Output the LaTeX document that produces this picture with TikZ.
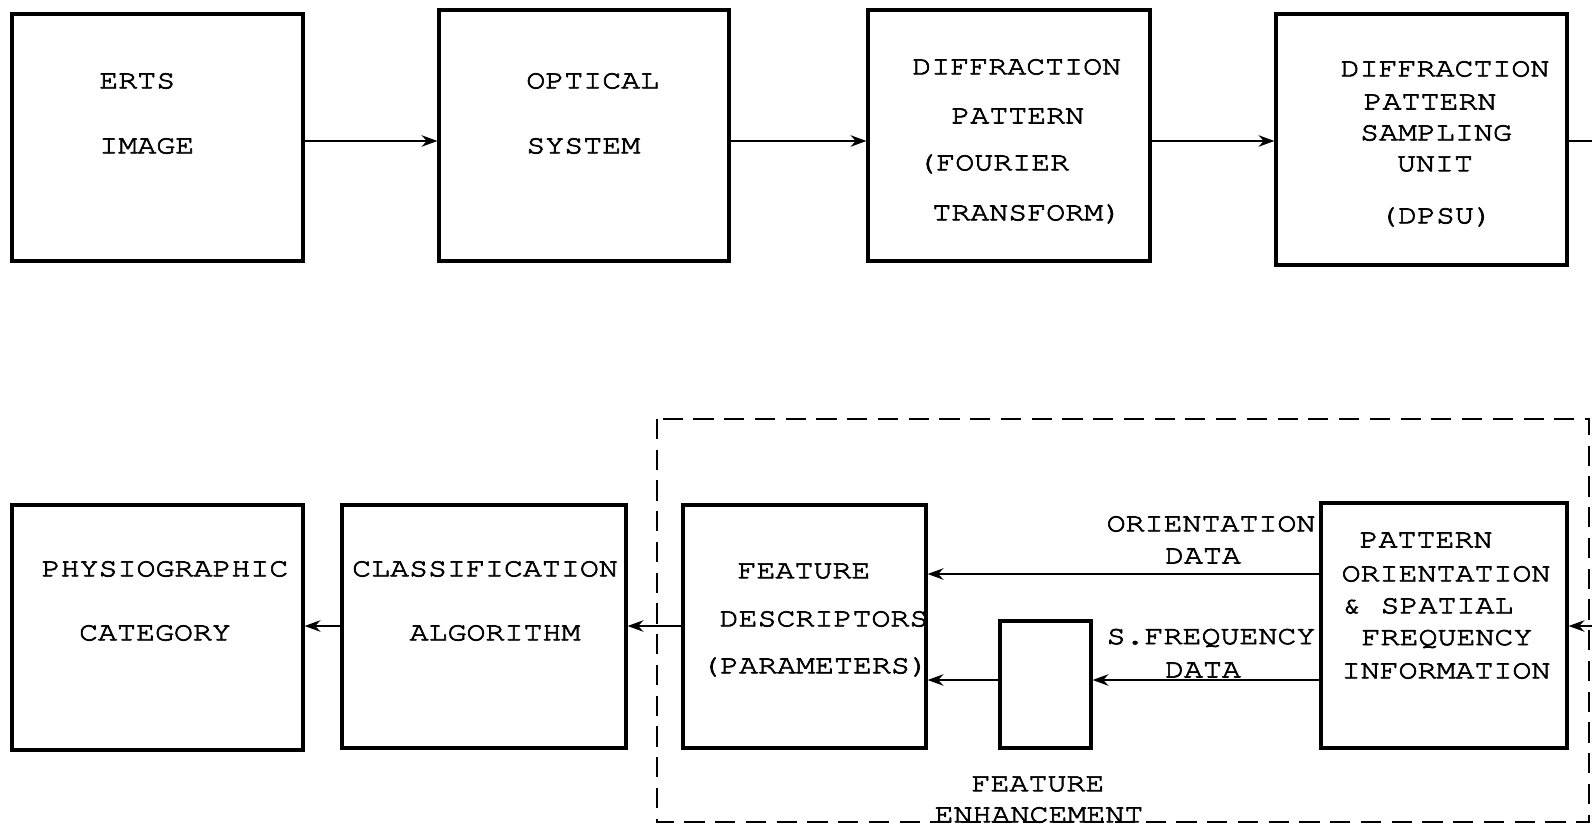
\documentclass[tikz,border=0pt]{standalone}
\usepackage{fontspec}
\setmainfont{TeX Gyre Cursor}[FakeStretch=1.2,FakeBold=2.6]
\usetikzlibrary{arrows.meta,fit}
\begin{document}
\begin{tikzpicture}[x=0.02cm,y=-0.02cm,
  box/.style={draw,line width=1.8pt,inner sep=0pt},
  lbl/.style={inner sep=0pt,font=\fontsize{15}{17}\selectfont},
  conn/.style={line width=1.2pt,-{Stealth[length=9pt,width=6.5pt]}},
  plain/.style={line width=1.2pt}]
\useasboundingbox (0,0) rectangle (1592,828);
% top row
\node[box,fit={(12,14)(303,261)}] (erts) {};
\node[box,fit={(439,10)(729,261)}] (opt) {};
\node[box,fit={(868,10)(1150,261)}] (dif) {};
\node[box,fit={(1276,14)(1567,265)}] (dpsu) {};
\node[lbl,anchor=west] at (99,81) {ERTS};
\node[lbl,anchor=west] at (99,146) {IMAGE};
\node[lbl,anchor=west] at (526,81) {OPTICAL};
\node[lbl,anchor=west] at (526,146) {SYSTEM};
\node[lbl,anchor=west] at (912,67) {DIFFRACTION};
\node[lbl,anchor=west] at (951,116) {PATTERN};
\node[lbl,anchor=west] at (917,164) {(FOURIER};
\node[lbl,anchor=west] at (932,214) {TRANSFORM)};
\node[lbl] at (1445,69) {DIFFRACTION};
\node[lbl] at (1430,102) {PATTERN};
\node[lbl] at (1436,133) {SAMPLING};
\node[lbl] at (1435,164) {UNIT};
\node[lbl] at (1436,217) {(DPSU)};
\coordinate (out) at (1592,141);
\draw[conn] (erts.east |- 0,141) -- (opt.west |- 0,141);
\draw[conn] (opt.east |- 0,141) -- (dif.west |- 0,141);
\draw[conn] (dif.east |- 0,141) -- (dpsu.west |- 0,141);
\draw[plain] (dpsu.east |- 0,141) -- (out);
% bottom row
\draw[line width=1.2pt,dash pattern=on 11.5pt off 6pt] (657,419) rectangle (1589,822);
\node[box,fit={(12,505)(303,750)}] (phys) {};
\node[box,fit={(342,505)(626,748)}] (cls) {};
\node[box,fit={(683,505)(926,748)}] (feat) {};
\node[box,fit={(1000,621)(1091,748)}] (enh) {};
\node[box,fit={(1321,503)(1567,748)}] (pat) {};
\node[lbl] at (165,569) {PHYSIOGRAPHIC};
\node[lbl] at (155,633) {CATEGORY};
\node[lbl] at (485,569) {CLASSIFICATION};
\node[lbl] at (495,633) {ALGORITHM};
\node[lbl] at (804,571) {FEATURE};
\node[lbl] at (824,619) {DESCRIPTORS};
\node[lbl] at (815,667) {(PARAMETERS)};
\node[lbl] at (1211,524) {ORIENTATION};
\node[lbl] at (1203,556) {DATA};
\node[lbl] at (1211,638) {S.FREQUENCY};
\node[lbl] at (1203,670) {DATA};
\node[lbl] at (1426,540) {PATTERN};
\node[lbl] at (1446,574) {ORIENTATION};
\node[lbl] at (1428,606) {\&\ SPATIAL};
\node[lbl] at (1447,639) {FREQUENCY};
\node[lbl] at (1446,671) {INFORMATION};
\node[lbl] at (1038,784) {FEATURE};
\node[lbl] at (1039,815) {ENHANCEMENT};
\coordinate (in) at (1592,626);
\draw[conn] (in) -- (pat.east |- 0,626);
\draw[conn] (pat.west |- 0,574) -- (feat.east |- 0,574);
\draw[conn] (pat.west |- 0,680) -- (enh.east |- 0,680);
\draw[conn] (enh.west |- 0,680) -- (feat.east |- 0,680);
\draw[conn] (feat.west |- 0,626) -- (cls.east |- 0,626);
\draw[conn] (cls.west |- 0,626) -- (phys.east |- 0,626);
\end{tikzpicture}
\end{document}
